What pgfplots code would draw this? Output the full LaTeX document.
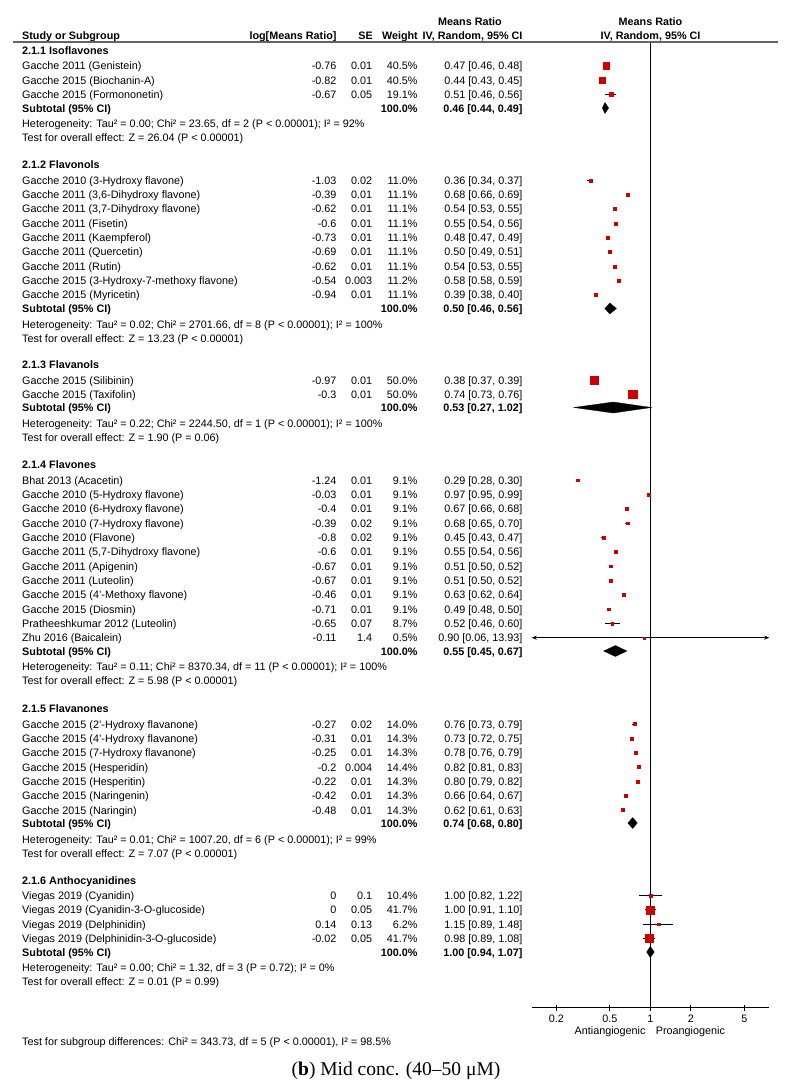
\documentclass[border=0pt]{standalone}
\usepackage{pgfplots}
\pgfplotsset{compat=1.18}
\usepackage{pgfplotstable}
\usepackage{fontspec}
\setmainfont{Liberation Sans}
\newfontfamily\capfont{Liberation Serif}
\usetikzlibrary{arrows.meta}
\definecolor{sq}{RGB}{204,0,0}
\definecolor{rulec}{RGB}{100,100,100}
\newcommand\fs{\fontsize{10.8}{13}\selectfont}

% y (negative pixel row), mean ratio, CI low, CI high, square side
\pgfplotstableread{
y m lo hi s
-65.7 0.47 0.46 0.48 6.7
-80.0 0.44 0.43 0.45 6.7
-94.3 0.51 0.46 0.56 3.7
}\gA
\pgfplotstableread{
y m lo hi s
-180.3 0.36 0.34 0.37 3
-194.6 0.68 0.66 0.69 3
-208.9 0.54 0.53 0.55 3
-223.3 0.55 0.54 0.56 3
-237.6 0.48 0.47 0.49 3
-251.9 0.50 0.49 0.51 3
-266.3 0.54 0.53 0.55 3
-280.6 0.58 0.58 0.59 3
-294.9 0.39 0.38 0.40 3
}\gB
\pgfplotstableread{
y m lo hi s
-380.0 0.38 0.37 0.39 8.5
-394.0 0.74 0.73 0.76 8.5
}\gC
\pgfplotstableread{
y m lo hi s
-480.0 0.29 0.28 0.30 3
-494.3 0.97 0.95 0.99 3
-508.7 0.67 0.66 0.68 3
-523.0 0.68 0.65 0.70 3
-537.3 0.45 0.43 0.47 3
-551.7 0.55 0.54 0.56 3
-566.0 0.51 0.50 0.52 3
-580.3 0.51 0.50 0.52 3
-594.7 0.63 0.62 0.64 3
-609.0 0.49 0.48 0.50 3
-623.3 0.52 0.46 0.60 3
-637.7 0.90 0.90 0.90 2
}\gD
\pgfplotstableread{
y m lo hi s
-724.0 0.76 0.73 0.79 3.3
-738.3 0.73 0.72 0.75 3.3
-752.7 0.78 0.76 0.79 3.3
-767.0 0.82 0.81 0.83 3.3
-781.3 0.80 0.79 0.82 3.3
-795.7 0.66 0.64 0.67 3.3
-810.0 0.62 0.61 0.63 3.3
}\gE
\pgfplotstableread{
y m lo hi s
-895.5 1.00 0.82 1.22 3
-909.8 1.00 0.91 1.10 8.3
-924.2 1.15 0.89 1.48 2.5
-938.5 0.98 0.89 1.08 8.3
}\gF

\newcommand\studies[1]{%
 \addplot[black, line width=0.8pt, only marks, mark=square*, scatter,
   scatter/use mapped color={draw=sq, fill=sq, line width=0.2pt},
   visualization depends on={\thisrow{s}/2-0.1 \as \hs},
   scatter/@pre marker code/.append style={/tikz/mark size=\hs},
   error bars/.cd, x dir=both, x explicit, error mark=none,
   error bar style={black, line width=0.8pt}]
   table[x=m, y=y, x error plus expr=\thisrow{hi}-\thisrow{m},
         x error minus expr=\thisrow{m}-\thisrow{lo}] {#1};}
\newcommand\diamondplot[4]{% mean lo hi y
 \addplot[fill=black, draw=black, line width=0.3pt]
   coordinates {(#2,#4) (#1,#4+5.5) (#3,#4) (#1,#4-5.5)} -- cycle;}

\newcommand\studyrow[6]{%
 \node[anchor=base west] at (22,{#1+4}) {#2};
 \node[anchor=base east] at (336.7,{#1+4}) {#3};
 \node[anchor=base east] at (372.3,{#1+4}) {#4};
 \node[anchor=base east] at (417.7,{#1+4}) {#5};
 \node[anchor=base east] at (522.7,{#1+4}) {#6};}
\newcommand\subrow[2]{%
 \node[anchor=base west] at (22,{#1+4}) {\bfseries Subtotal (95\% CI)};
 \node[anchor=base east] at (417.7,{#1+4}) {\bfseries 100.0\%};
 \node[anchor=base east] at (522.7,{#1+4}) {\bfseries #2};}
\newcommand\grp[2]{\node[anchor=base west] at (22,{#1+4}) {\bfseries #2};}
\newcommand\txt[2]{\node[anchor=base west] at (22,{#1+4}) {#2};}

\begin{document}
\begin{tikzpicture}
\useasboundingbox (0,0) rectangle (788pt,-1087pt);
\begin{axis}[
  at={(531.7pt,-1007.7pt)}, anchor=south west,
  width=237.6pt, height=965.7pt, scale only axis,
  xmode=log, xmin=0.1313, xmax=7.67, ymin=-1007.7, ymax=-42,
  axis x line*=bottom, axis y line=none,
  axis line style={black, line width=0.8pt},
  xtick={0.2,0.5,1,2,5}, xticklabels={0.2,0.5,1,2,5},
  minor xtick={}, 
  major tick length=6pt, tick align=center,
  tick style={black, line width=0.8pt},
  xticklabel style={font=\fs, inner sep=0pt, anchor=north, yshift=-3.9pt},
  clip=false,
]
\addplot[black, line width=1pt] coordinates {(1,-42) (1,-1007.7)};
\studies{\gA}
\studies{\gB}
\studies{\gC}
\studies{\gD}
\studies{\gE}
\studies{\gF}
\addplot[black, line width=0.8pt, {Stealth[length=5pt,width=4pt]}-{Stealth[length=5pt,width=4pt]}]
  coordinates {(0.1313,-637.7) (7.67,-637.7)};
\diamondplot{0.46}{0.44}{0.49}{-108}
\diamondplot{0.50}{0.46}{0.56}{-308.5}
\diamondplot{0.53}{0.27}{1.02}{-407.5}
\diamondplot{0.55}{0.45}{0.67}{-651}
\diamondplot{0.74}{0.68}{0.80}{-823}
\diamondplot{1.00}{0.94}{1.07}{-952}
\end{axis}

\begin{scope}[x=1pt, y=-1pt, every node/.style={inner sep=0pt, font=\fs}]
% header
\node[anchor=base] at (470,25) {\bfseries Means Ratio};
\node[anchor=base] at (650.5,25) {\bfseries Means Ratio};
\node[anchor=base west] at (22,39) {\bfseries Study or Subgroup};
\node[anchor=base east] at (336.7,39) {\bfseries log[Means Ratio]};
\node[anchor=base east] at (373,39) {\bfseries SE};
\node[anchor=base east] at (418,39) {\bfseries Weight};
\node[anchor=base east] at (522.7,39) {\bfseries IV, Random, 95\% CI};
\node[anchor=base] at (650.5,39) {\bfseries IV, Random, 95\% CI};
\draw[rulec, line width=1.3pt] (13,42) -- (778,42);

% 2.1.1
\grp{50}{2.1.1 Isoflavones}
\studyrow{65.7}{Gacche 2011 (Genistein)}{-0.76}{0.01}{40.5\%}{0.47 [0.46, 0.48]}
\studyrow{80}{Gacche 2015 (Biochanin-A)}{-0.82}{0.01}{40.5\%}{0.44 [0.43, 0.45]}
\studyrow{94.3}{Gacche 2015 (Formononetin)}{-0.67}{0.05}{19.1\%}{0.51 [0.46, 0.56]}
\subrow{108}{0.46 [0.44, 0.49]}
\txt{123.3}{Heterogeneity: Tau² = 0.00; Chi² = 23.65, df = 2 (P < 0.00001); I² = 92\%}
\txt{137.5}{Test for overall effect: Z = 26.04 (P < 0.00001)}

% 2.1.2
\grp{164.3}{2.1.2 Flavonols}
\studyrow{180.3}{Gacche 2010 (3-Hydroxy flavone)}{-1.03}{0.02}{11.0\%}{0.36 [0.34, 0.37]}
\studyrow{194.6}{Gacche 2011 (3,6-Dihydroxy flavone)}{-0.39}{0.01}{11.1\%}{0.68 [0.66, 0.69]}
\studyrow{208.9}{Gacche 2011 (3,7-Dihydroxy flavone)}{-0.62}{0.01}{11.1\%}{0.54 [0.53, 0.55]}
\studyrow{223.3}{Gacche 2011 (Fisetin)}{-0.6}{0.01}{11.1\%}{0.55 [0.54, 0.56]}
\studyrow{237.6}{Gacche 2011 (Kaempferol)}{-0.73}{0.01}{11.1\%}{0.48 [0.47, 0.49]}
\studyrow{251.9}{Gacche 2011 (Quercetin)}{-0.69}{0.01}{11.1\%}{0.50 [0.49, 0.51]}
\studyrow{266.3}{Gacche 2011 (Rutin)}{-0.62}{0.01}{11.1\%}{0.54 [0.53, 0.55]}
\studyrow{280.6}{Gacche 2015 (3-Hydroxy-7-methoxy flavone)}{-0.54}{0.003}{11.2\%}{0.58 [0.58, 0.59]}
\studyrow{294.9}{Gacche 2015 (Myricetin)}{-0.94}{0.01}{11.1\%}{0.39 [0.38, 0.40]}
\subrow{308.5}{0.50 [0.46, 0.56]}
\txt{324}{Heterogeneity: Tau² = 0.02; Chi² = 2701.66, df = 8 (P < 0.00001); I² = 100\%}
\txt{338}{Test for overall effect: Z = 13.23 (P < 0.00001)}

% 2.1.3
\grp{364.5}{2.1.3 Flavanols}
\studyrow{380}{Gacche 2015 (Silibinin)}{-0.97}{0.01}{50.0\%}{0.38 [0.37, 0.39]}
\studyrow{394}{Gacche 2015 (Taxifolin)}{-0.3}{0.01}{50.0\%}{0.74 [0.73, 0.76]}
\subrow{407.5}{0.53 [0.27, 1.02]}
\txt{423}{Heterogeneity: Tau² = 0.22; Chi² = 2244.50, df = 1 (P < 0.00001); I² = 100\%}
\txt{437}{Test for overall effect: Z = 1.90 (P = 0.06)}

% 2.1.4
\grp{464}{2.1.4 Flavones}
\studyrow{480}{Bhat 2013 (Acacetin)}{-1.24}{0.01}{9.1\%}{0.29 [0.28, 0.30]}
\studyrow{494.3}{Gacche 2010 (5-Hydroxy flavone)}{-0.03}{0.01}{9.1\%}{0.97 [0.95, 0.99]}
\studyrow{508.7}{Gacche 2010 (6-Hydroxy flavone)}{-0.4}{0.01}{9.1\%}{0.67 [0.66, 0.68]}
\studyrow{523}{Gacche 2010 (7-Hydroxy flavone)}{-0.39}{0.02}{9.1\%}{0.68 [0.65, 0.70]}
\studyrow{537.3}{Gacche 2010 (Flavone)}{-0.8}{0.02}{9.1\%}{0.45 [0.43, 0.47]}
\studyrow{551.7}{Gacche 2011 (5,7-Dihydroxy flavone)}{-0.6}{0.01}{9.1\%}{0.55 [0.54, 0.56]}
\studyrow{566}{Gacche 2011 (Apigenin)}{-0.67}{0.01}{9.1\%}{0.51 [0.50, 0.52]}
\studyrow{580.3}{Gacche 2011 (Luteolin)}{-0.67}{0.01}{9.1\%}{0.51 [0.50, 0.52]}
\studyrow{594.7}{Gacche 2015 (4'-Methoxy flavone)}{-0.46}{0.01}{9.1\%}{0.63 [0.62, 0.64]}
\studyrow{609}{Gacche 2015 (Diosmin)}{-0.71}{0.01}{9.1\%}{0.49 [0.48, 0.50]}
\studyrow{623.3}{Pratheeshkumar 2012 (Luteolin)}{-0.65}{0.07}{8.7\%}{0.52 [0.46, 0.60]}
\studyrow{637.7}{Zhu 2016 (Baicalein)}{-0.11}{1.4}{0.5\%}{0.90 [0.06, 13.93]}
\subrow{651}{0.55 [0.45, 0.67]}
\txt{666.5}{Heterogeneity: Tau² = 0.11; Chi² = 8370.34, df = 11 (P < 0.00001); I² = 100\%}
\txt{680.5}{Test for overall effect: Z = 5.98 (P < 0.00001)}

% 2.1.5
\grp{708}{2.1.5 Flavanones}
\studyrow{724}{Gacche 2015 (2'-Hydroxy flavanone)}{-0.27}{0.02}{14.0\%}{0.76 [0.73, 0.79]}
\studyrow{738.3}{Gacche 2015 (4'-Hydroxy flavanone)}{-0.31}{0.01}{14.3\%}{0.73 [0.72, 0.75]}
\studyrow{752.7}{Gacche 2015 (7-Hydroxy flavanone)}{-0.25}{0.01}{14.3\%}{0.78 [0.76, 0.79]}
\studyrow{767}{Gacche 2015 (Hesperidin)}{-0.2}{0.004}{14.4\%}{0.82 [0.81, 0.83]}
\studyrow{781.3}{Gacche 2015 (Hesperitin)}{-0.22}{0.01}{14.3\%}{0.80 [0.79, 0.82]}
\studyrow{795.7}{Gacche 2015 (Naringenin)}{-0.42}{0.01}{14.3\%}{0.66 [0.64, 0.67]}
\studyrow{810}{Gacche 2015 (Naringin)}{-0.48}{0.01}{14.3\%}{0.62 [0.61, 0.63]}
\subrow{823}{0.74 [0.68, 0.80]}
\txt{839}{Heterogeneity: Tau² = 0.01; Chi² = 1007.20, df = 6 (P < 0.00001); I² = 99\%}
\txt{853}{Test for overall effect: Z = 7.07 (P < 0.00001)}

% 2.1.6
\grp{880}{2.1.6 Anthocyanidines}
\studyrow{895.5}{Viegas 2019 (Cyanidin)}{0}{0.1}{10.4\%}{1.00 [0.82, 1.22]}
\studyrow{909.8}{Viegas 2019 (Cyanidin-3-O-glucoside)}{0}{0.05}{41.7\%}{1.00 [0.91, 1.10]}
\studyrow{924.2}{Viegas 2019 (Delphinidin)}{0.14}{0.13}{6.2\%}{1.15 [0.89, 1.48]}
\studyrow{938.5}{Viegas 2019 (Delphinidin-3-O-glucoside)}{-0.02}{0.05}{41.7\%}{0.98 [0.89, 1.08]}
\subrow{952}{1.00 [0.94, 1.07]}
\txt{967.5}{Heterogeneity: Tau² = 0.00; Chi² = 1.32, df = 3 (P = 0.72); I² = 0\%}
\txt{981.5}{Test for overall effect: Z = 0.01 (P = 0.99)}

\txt{1041}{Test for subgroup differences: Chi² = 343.73, df = 5 (P < 0.00001), I² = 98.5\%}

\node[anchor=base east] at (645.7,1034.7) {Antiangiogenic};
\node[anchor=base west] at (655.7,1034.7) {Proangiogenic};

\node[anchor=base, font=\capfont\fontsize{19.5}{22}\selectfont] at (396,1075) {(\textbf{b}) Mid conc. (40–50 μM)};
\end{scope}
\end{tikzpicture}
\end{document}
